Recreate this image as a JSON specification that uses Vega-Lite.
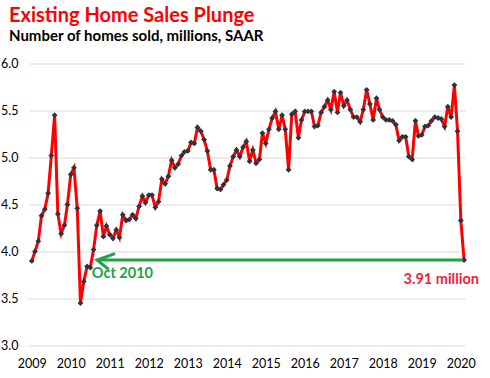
{
  "$schema": "https://vega.github.io/schema/vega-lite/v6.json",
  "width": 436,
  "height": 282,
  "autosize": {"type": "none"},
  "padding": {"left": 29, "top": 63.5, "right": 25, "bottom": 32.5},
  "background": "white",
  "title": {
    "text": "Existing Home Sales Plunge",
    "subtitle": "Number of homes sold, millions, SAAR",
    "anchor": "start",
    "frame": "group",
    "dx": -20,
    "offset": 14,
    "font": "Lato",
    "fontSize": 20,
    "fontWeight": "bold",
    "color": "#ff0000",
    "subtitleFont": "Lato",
    "subtitleFontSize": 15,
    "subtitleFontWeight": "bold",
    "subtitleColor": "#000000",
    "subtitlePadding": 3
  },
  "config": {
    "view": {"stroke": null},
    "axis": {"labelFont": "Lato", "labelFontSize": 12.5, "labelColor": "#000000", "domain": false, "ticks": false, "labelOverlap": false, "labelSeparation": 0},
    "axisX": {"labelOverlap": false, "labelFlush": false}
  },
  "datasets": {
    "sales": [
      {"date": "2009-04-01", "value": 3.90}, {"date": "2009-05-01", "value": 4.00}, {"date": "2009-06-01", "value": 4.11},
      {"date": "2009-07-01", "value": 4.38}, {"date": "2009-08-01", "value": 4.45}, {"date": "2009-09-01", "value": 4.62},
      {"date": "2009-10-01", "value": 5.02}, {"date": "2009-11-01", "value": 5.45}, {"date": "2009-12-01", "value": 4.40},
      {"date": "2010-01-01", "value": 4.19}, {"date": "2010-02-01", "value": 4.28}, {"date": "2010-03-01", "value": 4.50},
      {"date": "2010-04-01", "value": 4.82}, {"date": "2010-05-01", "value": 4.89}, {"date": "2010-06-01", "value": 4.46},
      {"date": "2010-07-01", "value": 3.45}, {"date": "2010-08-01", "value": 3.68}, {"date": "2010-09-01", "value": 3.84},
      {"date": "2010-10-01", "value": 3.83}, {"date": "2010-11-01", "value": 4.02}, {"date": "2010-12-01", "value": 4.28},
      {"date": "2011-01-01", "value": 4.43}, {"date": "2011-02-01", "value": 4.16}, {"date": "2011-03-01", "value": 4.27},
      {"date": "2011-04-01", "value": 4.18}, {"date": "2011-05-01", "value": 4.14}, {"date": "2011-06-01", "value": 4.23},
      {"date": "2011-07-01", "value": 4.15}, {"date": "2011-08-01", "value": 4.39}, {"date": "2011-09-01", "value": 4.33},
      {"date": "2011-10-01", "value": 4.34}, {"date": "2011-11-01", "value": 4.39}, {"date": "2011-12-01", "value": 4.35},
      {"date": "2012-01-01", "value": 4.48}, {"date": "2012-02-01", "value": 4.59}, {"date": "2012-03-01", "value": 4.52},
      {"date": "2012-04-01", "value": 4.60}, {"date": "2012-05-01", "value": 4.60}, {"date": "2012-06-01", "value": 4.47},
      {"date": "2012-07-01", "value": 4.53}, {"date": "2012-08-01", "value": 4.77}, {"date": "2012-09-01", "value": 4.72},
      {"date": "2012-10-01", "value": 4.80}, {"date": "2012-11-01", "value": 4.97}, {"date": "2012-12-01", "value": 4.89},
      {"date": "2013-01-01", "value": 4.93}, {"date": "2013-02-01", "value": 5.02}, {"date": "2013-03-01", "value": 5.06},
      {"date": "2013-04-01", "value": 5.07}, {"date": "2013-05-01", "value": 5.16}, {"date": "2013-06-01", "value": 5.15},
      {"date": "2013-07-01", "value": 5.32}, {"date": "2013-08-01", "value": 5.28}, {"date": "2013-09-01", "value": 5.19},
      {"date": "2013-10-01", "value": 5.07}, {"date": "2013-11-01", "value": 4.87}, {"date": "2013-12-01", "value": 4.87},
      {"date": "2014-01-01", "value": 4.67}, {"date": "2014-02-01", "value": 4.66}, {"date": "2014-03-01", "value": 4.71},
      {"date": "2014-04-01", "value": 4.76}, {"date": "2014-05-01", "value": 4.91}, {"date": "2014-06-01", "value": 5.01},
      {"date": "2014-07-01", "value": 5.08}, {"date": "2014-08-01", "value": 5.01}, {"date": "2014-09-01", "value": 5.11},
      {"date": "2014-10-01", "value": 5.17}, {"date": "2014-11-01", "value": 4.96}, {"date": "2014-12-01", "value": 5.08},
      {"date": "2015-01-01", "value": 4.94}, {"date": "2015-02-01", "value": 4.98}, {"date": "2015-03-01", "value": 5.26},
      {"date": "2015-04-01", "value": 5.15}, {"date": "2015-05-01", "value": 5.30}, {"date": "2015-06-01", "value": 5.42},
      {"date": "2015-07-01", "value": 5.49}, {"date": "2015-08-01", "value": 5.30}, {"date": "2015-09-01", "value": 5.45},
      {"date": "2015-10-01", "value": 5.30}, {"date": "2015-11-01", "value": 4.87}, {"date": "2015-12-01", "value": 5.46},
      {"date": "2016-01-01", "value": 5.49}, {"date": "2016-02-01", "value": 5.21}, {"date": "2016-03-01", "value": 5.40},
      {"date": "2016-04-01", "value": 5.49}, {"date": "2016-05-01", "value": 5.49}, {"date": "2016-06-01", "value": 5.49},
      {"date": "2016-07-01", "value": 5.33}, {"date": "2016-08-01", "value": 5.34}, {"date": "2016-09-01", "value": 5.48},
      {"date": "2016-10-01", "value": 5.54}, {"date": "2016-11-01", "value": 5.61}, {"date": "2016-12-01", "value": 5.51},
      {"date": "2017-01-01", "value": 5.70}, {"date": "2017-02-01", "value": 5.48}, {"date": "2017-03-01", "value": 5.69},
      {"date": "2017-04-01", "value": 5.55}, {"date": "2017-05-01", "value": 5.61}, {"date": "2017-06-01", "value": 5.51},
      {"date": "2017-07-01", "value": 5.43}, {"date": "2017-08-01", "value": 5.43}, {"date": "2017-09-01", "value": 5.38},
      {"date": "2017-10-01", "value": 5.51}, {"date": "2017-11-01", "value": 5.72}, {"date": "2017-12-01", "value": 5.57},
      {"date": "2018-01-01", "value": 5.40}, {"date": "2018-02-01", "value": 5.63}, {"date": "2018-03-01", "value": 5.51},
      {"date": "2018-04-01", "value": 5.43}, {"date": "2018-05-01", "value": 5.40}, {"date": "2018-06-01", "value": 5.40},
      {"date": "2018-07-01", "value": 5.39}, {"date": "2018-08-01", "value": 5.35}, {"date": "2018-09-01", "value": 5.18},
      {"date": "2018-10-01", "value": 5.22}, {"date": "2018-11-01", "value": 5.22}, {"date": "2018-12-01", "value": 5.01},
      {"date": "2019-01-01", "value": 4.98}, {"date": "2019-02-01", "value": 5.39}, {"date": "2019-03-01", "value": 5.23},
      {"date": "2019-04-01", "value": 5.24}, {"date": "2019-05-01", "value": 5.33}, {"date": "2019-06-01", "value": 5.34},
      {"date": "2019-07-01", "value": 5.39}, {"date": "2019-08-01", "value": 5.43}, {"date": "2019-09-01", "value": 5.42},
      {"date": "2019-10-01", "value": 5.41}, {"date": "2019-11-01", "value": 5.33}, {"date": "2019-12-01", "value": 5.54},
      {"date": "2020-01-01", "value": 5.43}, {"date": "2020-02-01", "value": 5.77}, {"date": "2020-03-01", "value": 5.28},
      {"date": "2020-04-01", "value": 4.33}, {"date": "2020-05-01", "value": 3.91}
    ],
    "arrow": [{"start": "2010-12-03", "end": "2020-04-19", "level": 3.91}],
    "greenLabel": [{"date": "2010-10-01", "value": 3.757, "label": "Oct 2010"}],
    "redLabel": [{"date": "2019-10-01", "value": 3.70, "label": "3.91 million"}]
  },
  "layer": [
    {
      "data": {"name": "sales"},
      "mark": {"type": "line", "color": "#ff0000", "strokeWidth": 3},
      "encoding": {
        "x": {
          "field": "date", "type": "temporal", "title": null,
          "scale": {"type": "utc", "domain": ["2009-03-06", "2020-05-10"]},
          "axis": {
            "labelExpr": "utcFormat(datum.value, '%Y')", "grid": false, "labelPadding": 12, "labelOverlap": false, "labelSeparation": 0, "tickCount": 20,
            "values": [
              {"year": 2009, "month": 4, "date": 1, "utc": true}, {"year": 2010, "month": 4, "date": 1, "utc": true},
              {"year": 2011, "month": 4, "date": 1, "utc": true}, {"year": 2012, "month": 4, "date": 1, "utc": true},
              {"year": 2013, "month": 4, "date": 1, "utc": true}, {"year": 2014, "month": 4, "date": 1, "utc": true},
              {"year": 2015, "month": 4, "date": 1, "utc": true}, {"year": 2016, "month": 4, "date": 1, "utc": true},
              {"year": 2017, "month": 4, "date": 1, "utc": true}, {"year": 2018, "month": 4, "date": 1, "utc": true},
              {"year": 2019, "month": 4, "date": 1, "utc": true}, {"year": 2020, "month": 4, "date": 1, "utc": true}
            ]
          }
        },
        "y": {
          "field": "value", "type": "quantitative", "title": null,
          "scale": {"domain": [3, 6], "nice": false, "zero": false},
          "axis": {"values": [3, 3.5, 4, 4.5, 5, 5.5, 6], "format": ".1f", "grid": true, "gridColor": "#d9d9d9", "gridWidth": 1, "labelPadding": 11}
        }
      }
    },
    {
      "data": {"name": "sales"},
      "mark": {"type": "point", "shape": "diamond", "filled": true, "size": 34, "color": "#2d3440", "opacity": 1},
      "encoding": {
        "x": {"field": "date", "type": "temporal", "title": null},
        "y": {"field": "value", "type": "quantitative", "title": null}
      }
    },
    {
      "data": {"name": "arrow"},
      "mark": {"type": "rule", "color": "#21a246", "strokeWidth": 3},
      "encoding": {
        "x": {"field": "start", "type": "temporal", "title": null},
        "x2": {"field": "end"},
        "y": {"field": "level", "type": "quantitative", "title": null}
      }
    },
    {
      "data": {"name": "arrow"},
      "mark": {"type": "point", "shape": "M 2,-0.7 L 0,0 L 1.3,1.05", "filled": false, "size": 324, "color": "#21a246", "strokeWidth": 3, "opacity": 1, "strokeCap": "butt", "strokeJoin": "miter"},
      "encoding": {
        "x": {"field": "start", "type": "temporal", "title": null},
        "y": {"field": "level", "type": "quantitative", "title": null}
      }
    },
    {
      "data": {"name": "greenLabel"},
      "mark": {"type": "text", "font": "Lato", "fontWeight": "bold", "fontSize": 14.5, "baseline": "middle", "align": "left", "dx": 1.5, "color": "#21a246"},
      "encoding": {
        "x": {"field": "date", "type": "temporal", "title": null},
        "y": {"field": "value", "type": "quantitative", "title": null},
        "text": {"field": "label"}
      }
    },
    {
      "data": {"name": "redLabel"},
      "mark": {"type": "text", "font": "Lato", "fontWeight": "bold", "fontSize": 14.5, "baseline": "middle", "align": "center", "color": "#f01e3c"},
      "encoding": {
        "x": {"field": "date", "type": "temporal", "title": null},
        "y": {"field": "value", "type": "quantitative", "title": null},
        "text": {"field": "label"}
      }
    }
  ]
}
